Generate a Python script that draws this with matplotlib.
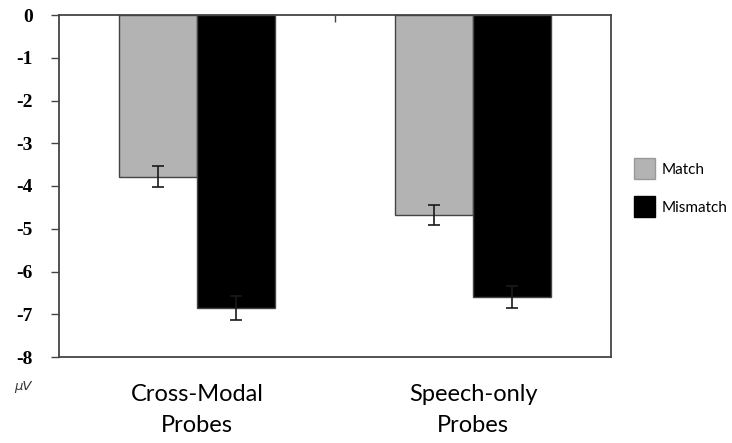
import numpy as np
import matplotlib
matplotlib.use('agg')
from matplotlib import pyplot as plt
from matplotlib.patches import Patch

# mean amplitude (microvolts) per probe type
CATEGORIES = ["Cross-Modal\nProbes", "Speech-only\nProbes"]
MATCH = [-3.78, -4.68]
MISMATCH = [-6.85, -6.6]
MATCH_ERR = [0.24, 0.23]
MISMATCH_ERR = [0.28, 0.26]
Y_TICKS = [0, -1, -2, -3, -4, -5, -6, -7, -8]

SANS = ['Lato', 'DejaVu Sans']
GRAY = '#b3b3b3'
EDGE = '#444444'

# tick numbers are bold serif; every other text names its family itself
plt.rcParams['font.family'] = ['Liberation Serif', 'DejaVu Serif']
plt.rcParams['font.weight'] = 'bold'

fig = plt.figure(figsize=(7.32, 4.43), dpi=100)
ax = fig.add_axes([59 / 732, 1 - 357 / 443, 552 / 732, 342 / 443])

x = np.arange(len(CATEGORIES))
w = 0.283
ax.bar(x - w / 2, MATCH, w, color=GRAY, edgecolor=EDGE, linewidth=1.0, zorder=2)
ax.bar(x + w / 2, MISMATCH, w, color='black', edgecolor=EDGE, linewidth=1.0, zorder=2)
ax.errorbar(x - w / 2, MATCH, yerr=MATCH_ERR, fmt='none', ecolor='#1a1a1a',
            elinewidth=1.2, capsize=4, capthick=1.2, zorder=3)
ax.errorbar(x + w / 2, MISMATCH, yerr=MISMATCH_ERR, fmt='none', ecolor='#1a1a1a',
            elinewidth=1.2, capsize=4, capthick=1.2, zorder=3)

ax.set_xlim(-0.5, 1.5)
ax.set_ylim(-8, 0)
ax.set_yticks(Y_TICKS)
ax.set_yticklabels([str(t) for t in Y_TICKS])
ax.tick_params(axis='y', direction='out', length=6, width=1, color=EDGE, pad=13,
               labelsize=14)

# category separator tick on the top axis
ax.xaxis.set_ticks_position('top')
ax.tick_params(axis='x', direction='in', length=5, width=1, color=EDGE)
ax.set_xticks([0.5])
ax.set_xticklabels([''])

for s in ax.spines.values():
    s.set_color(EDGE)
    s.set_linewidth(1.3)

for xi, lab in zip(x, CATEGORIES):
    ax.text(xi, -8.62, lab, ha='center', va='top', family=SANS, fontweight='normal',
            fontsize=17, linespacing=1.6)

ax.text(-0.63, -8.7, 'μV', ha='center', va='center', fontsize=9.5,
        family='DejaVu Sans', style='italic', fontweight='normal', color='#333333')

handles = [Patch(facecolor=GRAY, edgecolor='#999999', label='Match'),
           Patch(facecolor='black', edgecolor='black', label='Mismatch')]
fig.legend(handles=handles, loc='upper left', bbox_to_anchor=(628 / 732, 1 - 152 / 443),
           frameon=False, prop={'family': SANS, 'size': 11, 'weight': 'normal'},
           handlelength=1.35, handleheight=1.75, handletextpad=0.45,
           labelspacing=1.1, borderaxespad=0)

fig.savefig('out.png', dpi=100, facecolor='white')
